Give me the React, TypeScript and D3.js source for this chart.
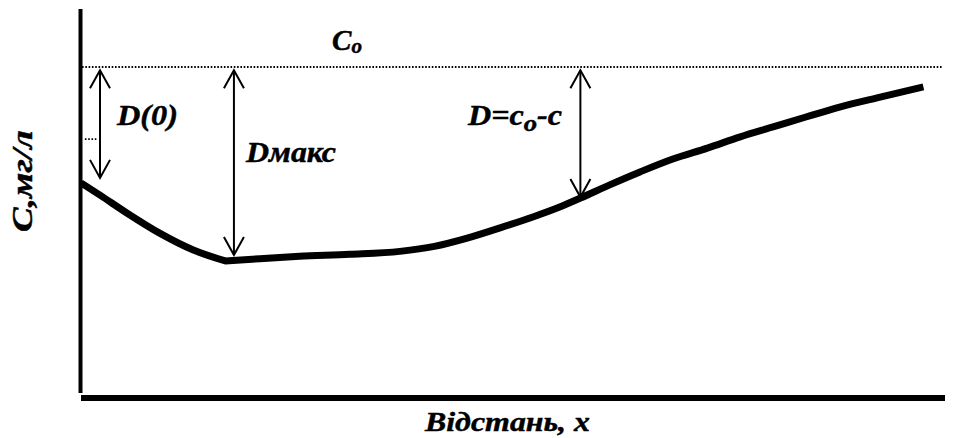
import React from "react";
import * as d3 from "d3";

// Concentration profile along the distance (arbitrary units)
const distance = [0, 2.2, 5.3, 9.1, 13.0, 16.7, 20.7, 25.3, 31.1, 36.9, 40.9, 44.7, 48.5, 52.3, 55.4, 57.8, 61.2, 64.7, 68.5, 72.5, 76.3, 80.1, 83.9, 87.8, 92.5, 97.5];
const concentration = [6.5, 6.13, 5.59, 4.98, 4.47, 4.14, 4.21, 4.28, 4.34, 4.43, 4.58, 4.83, 5.14, 5.47, 5.77, 6.04, 6.44, 6.83, 7.22, 7.55, 7.89, 8.19, 8.49, 8.79, 9.09, 9.4];

// Index of the sag point (critical deficit)
const sagIndex = 5;

// Saturation level C0
const saturation = 10;

// Deficit arrows: position along x, top and bottom values
const arrowX = [2.2, 17.7, 57.8];
const arrowTop = [9.9, 9.9, 9.9];
const arrowBottom = [6.65, 4.32, 6.07];

const W = 954;
const H = 438;

const FONT = "Liberation Serif";

export default function App() {
  const x = d3.scaleLinear().domain([0, 100]).range([81, 945]);
  const y = d3.scaleLinear().domain([0, saturation]).range([398, 67]);

  const pts: [number, number][] = distance.map((d, i) => [d, concentration[i]]);
  const line = d3
    .line<[number, number]>()
    .x((d) => x(d[0]))
    .y((d) => y(d[1]))
    .curve(d3.curveMonotoneX);

  // smooth on each side of the sag, with a sharp turn at the sag point
  const left = line(pts.slice(0, sagIndex + 1)) || "";
  const right = (line(pts.slice(sagIndex)) || "").replace(/^M/, "L");
  const curvePath = left + right;

  const arrows = arrowX.map((ax, i) => ({ x: x(ax), y1: y(arrowTop[i]), y2: y(arrowBottom[i]) }));

  const headW = 10;
  const headH = 18;

  const textStyle: React.CSSProperties = {
    fontFamily: FONT,
    fontWeight: "bold",
    fontStyle: "italic",
  };

  return (
    <svg
      width={W}
      height={H}
      style={{ position: "absolute", left: 0, top: 0, background: "#fff" }}
    >
      {/* saturation level */}
      <line x1={x(0) + 1} x2={943} y1={y(saturation)} y2={y(saturation)} stroke="#000" strokeWidth={1.8} strokeDasharray="1.6 1.7" />
      {/* short level mark */}
      <line x1={x(0.45)} x2={x(1.97)} y1={y(7.82)} y2={y(7.82)} stroke="#000" strokeWidth={1.8} strokeDasharray="1.6 1.7" />

      {/* axes */}
      <line x1={80.5} x2={80.5} y1={9} y2={393} stroke="#000" strokeWidth={4} />
      <line x1={x(0)} x2={x(100)} y1={398} y2={398} stroke="#000" strokeWidth={6} />

      {/* concentration curve */}
      <path d={curvePath} fill="none" stroke="#000" strokeWidth={7} strokeLinejoin="round" strokeLinecap="butt" />

      {/* deficit arrows */}
      {arrows.map((a, i) => (
        <g key={i} stroke="#000" strokeWidth={2} fill="none">
          <line x1={a.x} x2={a.x} y1={a.y1} y2={a.y2} />
          <polyline points={`${a.x - headW},${a.y1 + headH} ${a.x},${a.y1} ${a.x + headW},${a.y1 + headH}`} />
          <polyline points={`${a.x - headW},${a.y2 - headH} ${a.x},${a.y2} ${a.x + headW},${a.y2 - headH}`} />
        </g>
      ))}

      {/* labels */}
      <g style={textStyle} fill="#000" stroke="#000" strokeWidth={0.45}>
        <text x={332} y={50} fontSize={29} textLength={30} lengthAdjust="spacingAndGlyphs">
          C<tspan fontSize={21} dy={3}>o</tspan>
        </text>
        <text x={117} y={125} fontSize={30} textLength={61} lengthAdjust="spacingAndGlyphs">D(0)</text>
        <text x={246} y={162} fontSize={29} textLength={90} lengthAdjust="spacingAndGlyphs">Dмакс</text>
        <text x={468} y={125} fontSize={29} textLength={94} lengthAdjust="spacingAndGlyphs">
          D=c<tspan fontSize={24} dy={6}>o</tspan>
          <tspan dy={-6}>-c</tspan>
        </text>
        <text x={425} y={431} fontSize={28} textLength={165} lengthAdjust="spacingAndGlyphs">Відстань, x</text>
        <text transform="translate(32,181) rotate(-90)" fontSize={29} textAnchor="middle" textLength={102} lengthAdjust="spacingAndGlyphs">C,мг/л</text>
      </g>
    </svg>
  );
}
